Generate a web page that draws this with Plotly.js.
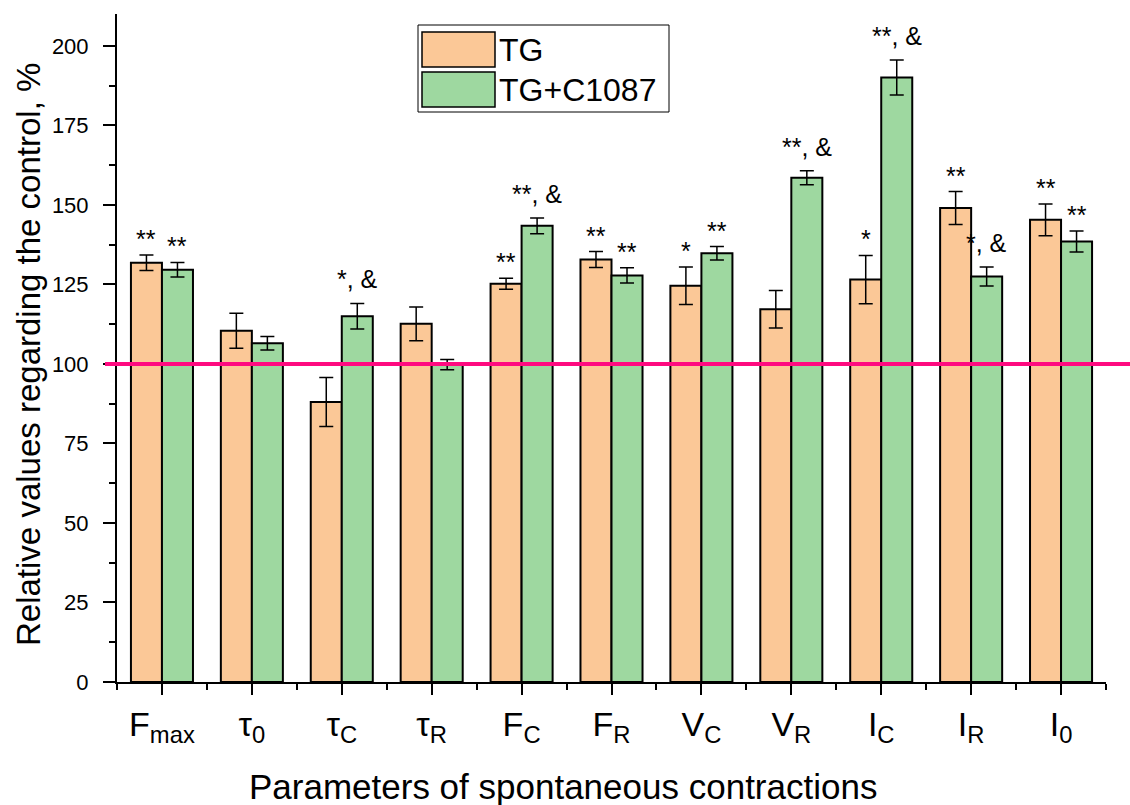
<!DOCTYPE html>
<html>
<head>
<meta charset="utf-8">
<script src="https://cdn.plot.ly/plotly-3.0.1.min.js"></script>
<style>
  html, body { margin: 0; padding: 0; background: #fff; }
  #chart { width: 1130px; height: 805px; }
</style>
</head>
<body>
<div id="chart"></div>
<script>
// Contraction parameters (x categories, shown with subscripts)
const categories = [
  'F<sub>max</sub>', 'τ<sub>0</sub>', 'τ<sub>C</sub>', 'τ<sub>R</sub>',
  'F<sub>C</sub>', 'F<sub>R</sub>', 'V<sub>C</sub>', 'V<sub>R</sub>',
  'I<sub>C</sub>', 'I<sub>R</sub>', 'I<sub>0</sub>'
];

// Relative values, % of control
const tgValues   = [131.8, 110.4, 88.0, 112.6, 125.2, 132.8, 124.6, 117.2, 126.5, 149.0, 145.3];
const tgErrors   = [2.4, 5.5, 7.7, 5.3, 1.7, 2.5, 5.9, 5.9, 7.6, 5.2, 5.0];
const tgcValues  = [129.6, 106.5, 115.0, 99.8, 143.4, 127.8, 134.8, 158.5, 190.0, 127.5, 138.5];
const tgcErrors  = [2.3, 2.1, 4.0, 1.6, 2.5, 2.4, 2.1, 2.2, 5.5, 3.0, 3.3];

// Significance marks above each bar
const tgMarks  = ['**', '', '', '', '**', '**', '*', '', '*', '**', '**'];
const tgcMarks = ['**', '', '*, &', '', '**, &', '**', '**', '**, &', '**, &', '*, &', '**'];

const seriesNames = ['TG', 'TG+C1087'];
const controlLevel = 100;

const FONT = 'Liberation Sans, Arial, Helvetica, sans-serif';
const ORANGE = '#FBC897';
const GREEN = '#9ED8A0';
const PINK = '#FF0A80';

// plot geometry (pixels)
const W = 1130, H = 805;
const M = { l: 117, r: 24, t: 14, b: 123 };
const plotW = W - M.l - M.r;
const plotH = H - M.t - M.b;
const px = x => (x - M.l) / plotW;          // page x -> paper x
const py = y => (H - M.b - y) / plotH;      // page y -> paper y

const BARGAP = 0.31;
const halfBar = (1 - BARGAP) / 4;           // centre offset of each bar in a group
const idx = categories.map((_, i) => i);

function barTrace(name, values, errors, color) {
  return {
    type: 'bar',
    name: name,
    x: idx,
    y: values,
    marker: { color: color, line: { color: '#000', width: 2 } },
    error_y: { type: 'data', array: errors, visible: true, color: '#000', thickness: 1.5, width: 7 },
    showlegend: false,
    hoverinfo: 'skip'
  };
}

const data = [
  barTrace(seriesNames[0], tgValues, tgErrors, ORANGE),
  barTrace(seriesNames[1], tgcValues, tgcErrors, GREEN)
];

const annotations = [];
function addMarks(marks, values, errors, dx) {
  marks.forEach((m, i) => {
    if (!m) return;
    annotations.push({
      x: i + dx, y: values[i] + errors[i], xref: 'x', yref: 'y',
      text: m, showarrow: false, xanchor: 'center', yanchor: 'bottom',
      yshift: m.indexOf('&') >= 0 ? 8 : 0,
      font: { family: FONT, size: 25, color: '#000' }
    });
  });
}
addMarks(tgMarks, tgValues, tgErrors, -halfBar);
addMarks(tgcMarks, tgcValues, tgcErrors, halfBar);

// axis titles
annotations.push({
  xref: 'paper', yref: 'paper', x: px(563), y: py(786),
  text: 'Parameters of spontaneous contractions', showarrow: false,
  xanchor: 'center', yanchor: 'middle',
  font: { family: FONT, size: 35, color: '#000' }
});
annotations.push({
  xref: 'paper', yref: 'paper', x: px(28), y: py(355),
  text: 'Relative values regarding the control, %', showarrow: false,
  textangle: -90, xanchor: 'center', yanchor: 'middle',
  font: { family: FONT, size: 33, color: '#000' }
});

// legend drawn as a framed box with swatches
const shapes = [];
shapes.push({
  type: 'line', xref: 'paper', yref: 'y', x0: px(105), x1: px(1130),
  y0: controlLevel, y1: controlLevel, line: { color: PINK, width: 4 }, layer: 'above'
});
shapes.push({
  type: 'rect', xref: 'paper', yref: 'paper', x0: px(418), x1: px(669), y0: py(112), y1: py(25),
  line: { color: '#000', width: 1 }, fillcolor: '#fff', layer: 'above'
});
[[ORANGE, 32, 67, 50], [GREEN, 72, 107, 90]].forEach((s, k) => {
  shapes.push({
    type: 'rect', xref: 'paper', yref: 'paper', x0: px(422), x1: px(495), y0: py(s[2]), y1: py(s[1]),
    line: { color: '#000', width: 1.5 }, fillcolor: s[0], layer: 'above'
  });
  annotations.push({
    xref: 'paper', yref: 'paper', x: px(497), y: py(s[3]),
    text: seriesNames[k], showarrow: false, xanchor: 'left', yanchor: 'middle',
    font: { family: FONT, size: 32, color: '#000' }
  });
});

const layout = {
  width: W, height: H,
  margin: M,
  paper_bgcolor: '#fff', plot_bgcolor: '#fff',
  barmode: 'group', bargap: BARGAP, bargroupgap: 0,
  showlegend: false,
  font: { family: FONT, color: '#000' },
  xaxis: {
    range: [-0.5, categories.length - 0.5],
    tickmode: 'array', tickvals: idx, ticktext: categories,
    ticks: 'outside', ticklen: 11, tickwidth: 2, tickcolor: '#000',
    minor: { tick0: -0.5, dtick: 1, ticks: 'outside', ticklen: 6, tickwidth: 2, tickcolor: '#000' },
    showline: true, linecolor: '#000', linewidth: 2,
    showgrid: false, zeroline: false,
    tickfont: { family: FONT, size: 34, color: '#000' },
    ticklabelstandoff: 0
  },
  yaxis: {
    range: [0, 210],
    tickmode: 'linear', tick0: 0, dtick: 25,
    ticks: 'outside', ticklen: 12, tickwidth: 2, tickcolor: '#000',
    minor: { dtick: 12.5, ticks: 'outside', ticklen: 6, tickwidth: 2, tickcolor: '#000' },
    showline: true, linecolor: '#000', linewidth: 2,
    showgrid: false, zeroline: false,
    tickfont: { family: FONT, size: 22, color: '#000' },
    ticklabelstandoff: 10
  },
  annotations: annotations,
  shapes: shapes
};

Plotly.newPlot('chart', data, layout, { displayModeBar: false, staticPlot: true });
</script>
</body>
</html>
